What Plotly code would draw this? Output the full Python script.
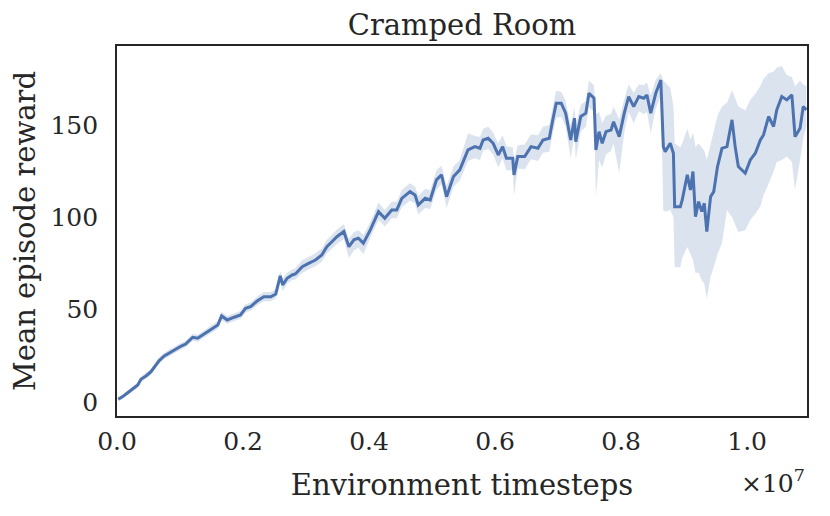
import plotly.graph_objects as go

# Environment timesteps (in units of 1e7)
steps = [
    0.002, 0.009, 0.017, 0.025, 0.033, 0.038, 0.046, 0.054, 0.060, 0.067,
    0.075, 0.086, 0.094, 0.102, 0.109, 0.120, 0.128, 0.136, 0.144, 0.152,
    0.160, 0.166, 0.175, 0.186, 0.196, 0.204, 0.212, 0.223, 0.233, 0.244,
    0.252, 0.259, 0.263, 0.270, 0.278, 0.283, 0.294, 0.304, 0.315, 0.325,
    0.333, 0.341, 0.349, 0.360, 0.368, 0.376, 0.383, 0.391, 0.402, 0.415,
    0.425, 0.436, 0.444, 0.452, 0.465, 0.473, 0.478, 0.489, 0.497, 0.507,
    0.515, 0.523, 0.534, 0.544, 0.557, 0.568, 0.576, 0.581, 0.589, 0.597,
    0.605, 0.612, 0.618, 0.628, 0.630, 0.636, 0.647, 0.657, 0.668, 0.676,
    0.686, 0.691, 0.697, 0.705, 0.712, 0.720, 0.726, 0.728, 0.736, 0.744,
    0.749, 0.757, 0.760, 0.765, 0.770, 0.776, 0.784, 0.788, 0.797, 0.805,
    0.812, 0.820, 0.828, 0.836, 0.841, 0.847, 0.855, 0.863, 0.867, 0.870,
    0.878, 0.883, 0.885, 0.894, 0.897, 0.905, 0.910, 0.914, 0.918, 0.923,
    0.928, 0.932, 0.936, 0.942, 0.947, 0.953, 0.960, 0.968, 0.976, 0.981,
    0.986, 0.997, 1.005, 1.013, 1.021, 1.026, 1.034, 1.042, 1.047, 1.055,
    1.063, 1.071, 1.076, 1.084, 1.089, 1.094,
]

# mean episode reward
mean_reward = [
    1.5, 2.9, 5.0, 7.0, 9.2, 12.3, 14.1, 16.4, 19.5, 22.4,
    24.9, 27.2, 29.1, 30.3, 31.4, 35.0, 34.5, 36.3, 38.1, 39.9,
    41.7, 46.6, 44.4, 45.9, 47.1, 50.7, 51.6, 54.9, 57.0, 57.0,
    58.5, 68.3, 63.4, 67.0, 68.8, 69.3, 73.3, 75.1, 76.9, 79.6,
    84.1, 86.8, 89.5, 92.3, 84.1, 87.8, 88.7, 86.0, 93.2, 103.1,
    99.5, 104.0, 104.0, 110.3, 113.9, 112.1, 106.7, 110.3, 109.4, 120.3,
    123.0, 111.2, 122.1, 125.7, 136.5, 138.3, 137.4, 141.9, 142.8, 140.1,
    133.8, 138.3, 132.0, 132.0, 123.0, 132.9, 132.9, 138.3, 137.4, 141.9,
    142.8, 151.8, 161.8, 161.8, 156.4, 141.9, 153.7, 141.0, 154.6, 156.4,
    167.2, 164.5, 136.5, 146.4, 140.1, 146.4, 147.3, 151.8, 143.7, 156.4,
    165.4, 160.0, 165.4, 164.5, 166.3, 156.4, 167.2, 174.4, 138.3, 135.6,
    140.1, 134.7, 105.8, 105.8, 109.4, 123.0, 114.8, 124.8, 100.4, 108.5,
    103.1, 107.6, 92.3, 111.2, 113.9, 127.5, 137.4, 138.3, 152.8, 138.3,
    127.5, 123.9, 131.1, 134.7, 141.9, 144.6, 154.6, 149.2, 158.2, 165.4,
    163.6, 166.3, 143.7, 148.2, 160.0, 158.2,
]

# lower / upper edge of the shaded band
lower = [
    0.5, 1.8, 3.8, 5.8, 7.9, 10.8, 12.6, 14.8, 17.9, 20.8,
    23.2, 25.5, 27.3, 28.5, 29.6, 33.1, 32.6, 34.3, 36.1, 37.8,
    39.6, 44.4, 42.3, 43.8, 45.0, 48.5, 49.4, 52.5, 54.6, 54.5,
    56.0, 64.5, 60.0, 64.0, 66.0, 66.3, 70.0, 71.8, 73.5, 76.0,
    80.4, 83.0, 85.6, 88.3, 78.0, 82.0, 83.5, 80.0, 89.0, 98.5,
    95.0, 99.5, 99.5, 105.5, 109.0, 107.5, 101.5, 105.0, 104.5, 115.0,
    118.0, 105.0, 116.5, 120.0, 130.5, 132.0, 131.0, 136.0, 137.0, 134.0,
    127.0, 132.0, 125.5, 125.5, 112.0, 126.5, 126.0, 131.5, 130.5, 135.0,
    135.5, 144.5, 154.0, 154.5, 149.0, 132.0, 145.0, 131.5, 146.5, 149.0,
    159.5, 157.0, 111.0, 131.0, 127.0, 134.0, 136.0, 140.0, 124.0, 146.0,
    157.0, 151.0, 157.5, 156.0, 157.0, 145.5, 159.0, 166.0, 104.0, 103.0,
    104.0, 100.0, 73.0, 73.0, 78.0, 84.0, 80.0, 77.0, 70.0, 70.0,
    66.0, 64.0, 56.0, 68.0, 73.0, 80.0, 86.0, 104.0, 100.0, 96.0,
    92.0, 93.0, 98.5, 102.0, 106.0, 112.0, 118.0, 125.0, 130.0, 131.0,
    133.0, 130.0, 115.0, 131.0, 143.0, 149.0,
]

upper = [
    2.5, 4.0, 6.2, 8.2, 10.6, 13.8, 15.7, 18.0, 21.1, 24.1,
    26.6, 28.9, 30.8, 32.1, 33.2, 36.9, 36.4, 38.3, 40.2, 42.0,
    43.8, 48.8, 46.5, 48.0, 49.3, 52.9, 53.9, 57.3, 59.5, 59.6,
    61.1, 71.0, 66.8, 70.0, 71.8, 72.4, 76.8, 78.5, 80.5, 83.2,
    87.8, 90.5, 93.4, 96.2, 88.5, 92.0, 93.0, 90.5, 97.5, 108.0,
    104.0, 108.5, 108.5, 115.0, 118.5, 116.5, 111.5, 115.5, 114.5, 125.5,
    128.0, 117.0, 127.5, 131.0, 145.5, 144.0, 143.5, 148.0, 149.0, 146.0,
    140.0, 144.5, 138.5, 138.0, 131.0, 139.0, 139.5, 145.0, 144.5, 149.0,
    150.0, 159.0, 168.5, 168.0, 163.0, 150.0, 160.0, 150.0, 161.0, 163.0,
    174.0, 171.5, 156.0, 157.0, 151.0, 155.0, 156.0, 160.0, 153.0, 164.0,
    172.0, 167.5, 172.0, 171.5, 173.0, 166.0, 174.5, 178.0, 174.0, 173.0,
    170.0, 160.0, 140.0, 138.0, 140.0, 148.0, 142.0, 146.0, 138.0, 140.0,
    138.0, 136.0, 131.0, 140.0, 146.0, 155.0, 160.0, 162.0, 169.0, 164.0,
    160.0, 158.0, 163.5, 167.0, 171.0, 175.0, 178.0, 179.0, 181.0, 182.0,
    177.0, 176.0, 171.0, 174.0, 172.0, 171.0,
]

x_ticks = [0.0, 0.2, 0.4, 0.6, 0.8, 1.0]
y_ticks = [0, 50, 100, 150]

FONT = "DejaVu Serif"
INK = "#262626"
BLUE = "#4c72b0"

fig = go.Figure()

# shaded band: upper edge then lower edge filled to it
fig.add_trace(go.Scatter(
    x=steps, y=upper, mode="lines",
    line=dict(width=0, color=BLUE),
    showlegend=False, hoverinfo="skip",
))
fig.add_trace(go.Scatter(
    x=steps, y=lower, mode="lines",
    line=dict(width=0, color=BLUE),
    fill="tonexty", fillcolor="rgba(76,114,176,0.2)",
    showlegend=False, hoverinfo="skip",
))

# mean curve
fig.add_trace(go.Scatter(
    x=steps, y=mean_reward, mode="lines",
    line=dict(color=BLUE, width=3),
    showlegend=False,
))

# page body keeps an 8px margin, so the figure is sized to sit inside it
fig.update_layout(
    width=822, height=508,
    plot_bgcolor="white", paper_bgcolor="white",
    margin=dict(l=106, r=23, t=38, b=100),
    font=dict(family=FONT, color=INK, size=25),
    title=dict(
        text="Cramped Room",
        x=0.5, xref="paper", xanchor="center",
        y=0.966, yref="container", yanchor="middle",
        font=dict(family=FONT, size=29, color=INK),
    ),
    xaxis=dict(
        range=[0, 1.095],
        tickmode="array", tickvals=x_ticks,
        ticktext=[f"{v:.1f}" for v in x_ticks],
        showgrid=False, zeroline=False,
        showline=True, linecolor=INK, linewidth=1.6, mirror=True,
        ticks="", ticklabelstandoff=2,
        tickfont=dict(size=25),
        title=dict(text="Environment timesteps", font=dict(size=29), standoff=20),
    ),
    yaxis=dict(
        range=[-7.6, 192.8],
        tickmode="array", tickvals=y_ticks,
        showgrid=False, zeroline=False,
        showline=True, linecolor=INK, linewidth=1.6, mirror=True,
        ticks="", ticklabelstandoff=12,
        tickfont=dict(size=25),
        title=dict(text="Mean episode reward", font=dict(size=29), standoff=10),
    ),
    annotations=[
        dict(
            text="×10<sup>7</sup>",
            xref="paper", yref="paper", x=1.0, y=-0.128,
            xanchor="right", yanchor="top", showarrow=False,
            font=dict(family=FONT, size=25, color=INK),
        )
    ],
)

fig.write_html("out.html")
